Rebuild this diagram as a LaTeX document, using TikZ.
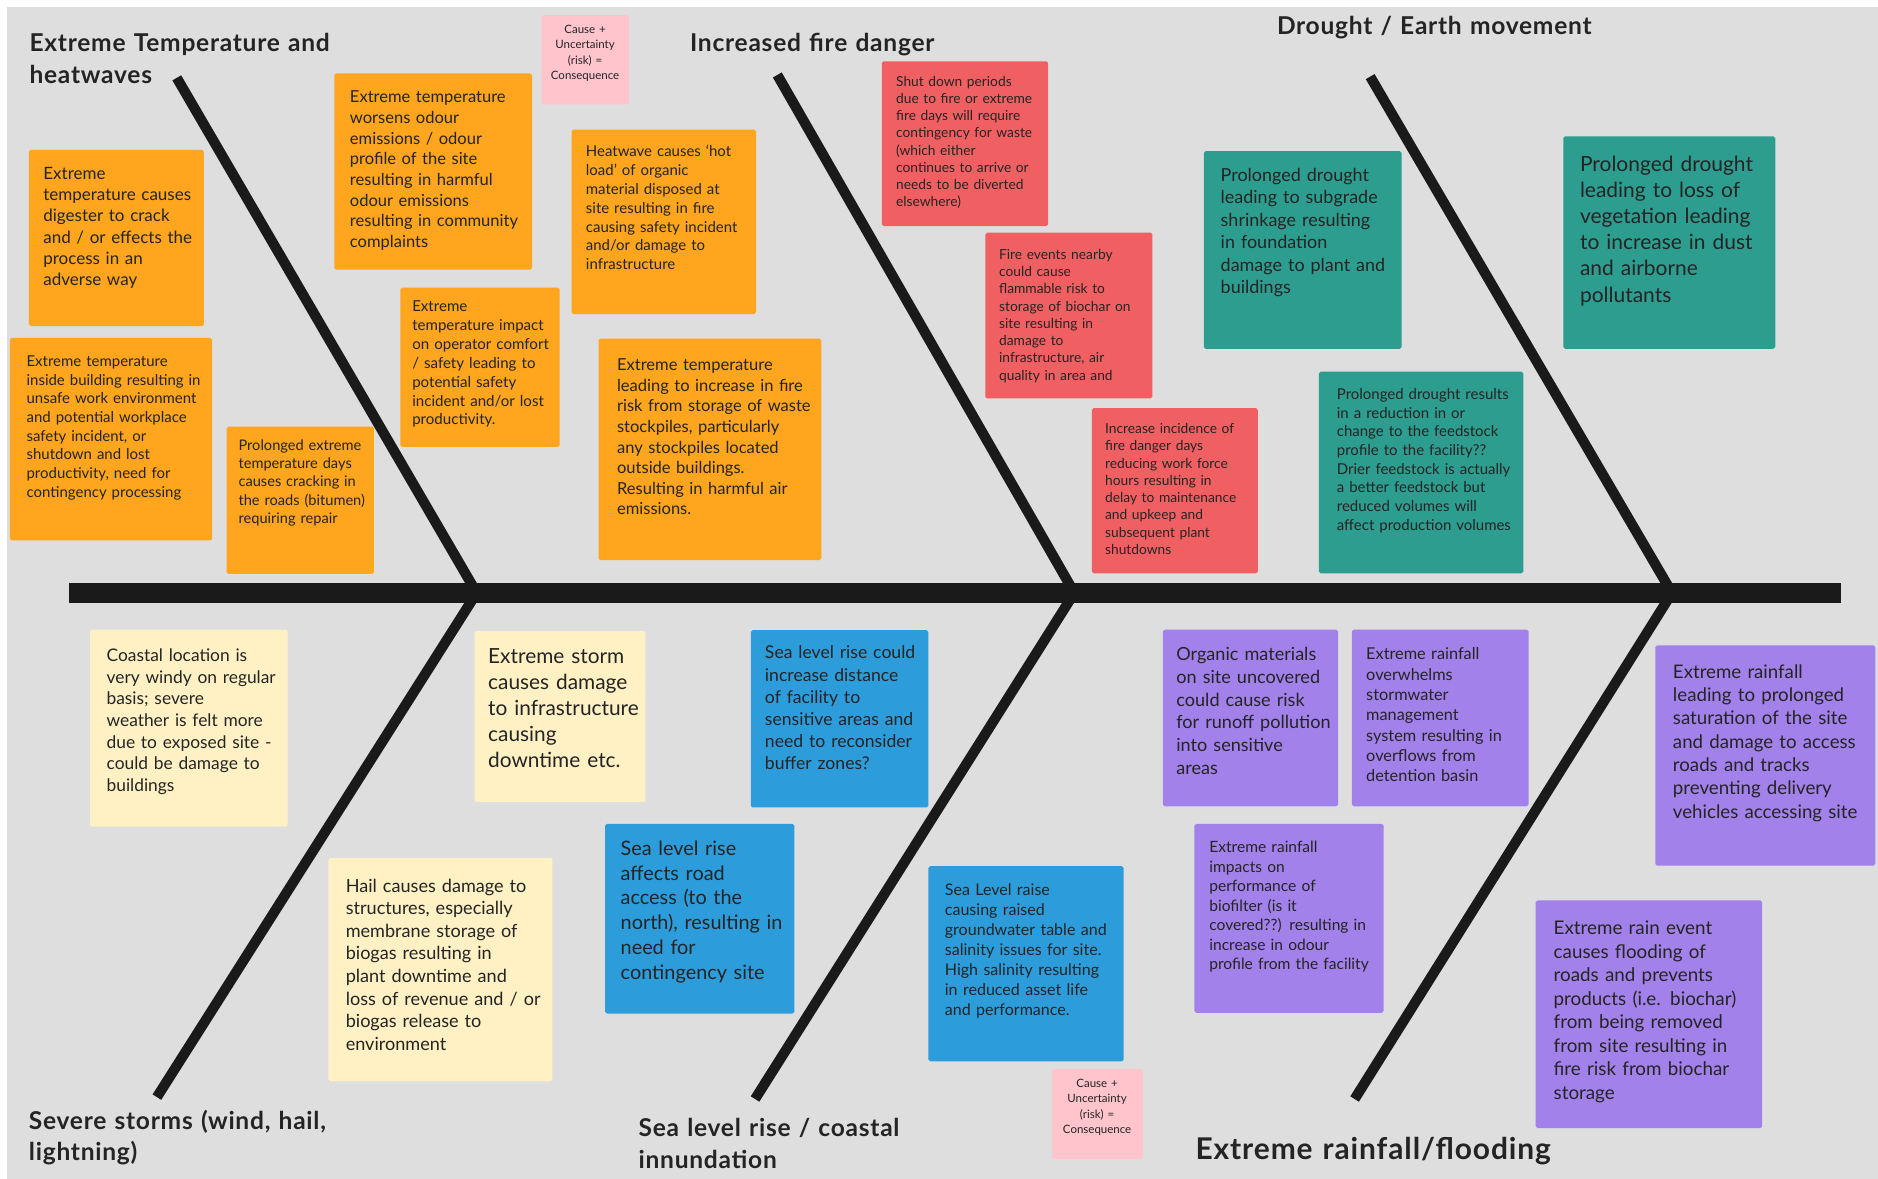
\documentclass[tikz,border=0pt]{standalone}
\usepackage{fontspec}
\setmainfont{Lato}
\newcommand{\fs}[2]{\fontsize{#1}{#2}\selectfont}
\definecolor{board}{RGB}{222,222,222}
\definecolor{ink}{RGB}{36,36,36}
\definecolor{bonecol}{RGB}{26,26,26}
\definecolor{orangenote}{RGB}{255,165,30}
\definecolor{pinknote}{RGB}{255,196,204}
\definecolor{rednote}{RGB}{240,96,98}
\definecolor{tealnote}{RGB}{44,157,143}
\definecolor{yellownote}{RGB}{255,241,196}
\definecolor{bluenote}{RGB}{45,156,219}
\definecolor{purplenote}{RGB}{162,129,234}

\begin{document}
\begin{tikzpicture}[x=1pt, y=-1pt,
  stickybox/.style={anchor=north west, inner sep=0pt, rounded corners=1.5pt},
  stickytxt/.style={anchor=base west, inner sep=0pt, align=left, text=ink},
  cuetxt/.style={anchor=base, inner sep=0pt, align=center, text=ink, font=\fs{9.6}{12.8}},
  headline/.style={anchor=base west, inner sep=0pt, align=left, text=ink, text width=340pt, font=\bfseries\fs{20.5}{26.5}\addfontfeature{LetterSpace=3}},
  fishbone/.style={draw=bonecol, line width=8.5pt}]
\useasboundingbox (0,0) rectangle (1568,984);
%Fondo
\fill[white] (0,0) rectangle (1568,984);
\fill[board] (6,6) rectangle (1568,984);

%Espina
\coordinate (spineL) at (58,495);
\coordinate (spineR) at (1537,495);
\coordinate (j1) at (398,495);
\coordinate (j2) at (897,495);
\coordinate (j3) at (1396,495);
\coordinate (heatEnd) at (147.6,65);
\coordinate (fireEnd) at (649,62.6);
\coordinate (dryEnd) at (1144,64);
\coordinate (stormEnd) at (131,916);
\coordinate (seaEnd) at (630.4,917.6);
\coordinate (rainEnd) at (1131,917.6);
\draw[draw=bonecol, line width=17pt] (spineL) -- (spineR);
\draw[fishbone] (j1) -- (heatEnd);
\draw[fishbone] (j2) -- (fireEnd);
\draw[fishbone] (j3) -- (dryEnd);
\draw[fishbone] (j1) -- (stormEnd);
\draw[fishbone] (j2) -- (seaEnd);
\draw[fishbone] (j3) -- (rainEnd);

%Titulos
\node[headline] (tHeat) at (24.5,43.2) {Extreme Temperature and\\heatwaves};
\node[headline] (tFire) at (576,43.2) {Increased fire danger};
\node[headline] (tDry) at (1066,29.2) {Drought / Earth movement};
\node[headline] (tStorm) at (24,942.7) {Severe storms (wind, hail,\\lightning)};
\node[headline] (tSea) at (533,949) {Sea level rise / coastal\\innundation};
\node[headline, font=\bfseries\fs{25}{30}\addfontfeature{LetterSpace=3}] (tRain) at (998,967.8) {Extreme rainfall/flooding};

%Calor
\node[stickybox, fill=orangenote, minimum width=146pt, minimum height=147pt] (heat1) at (24,125) {};
\node[stickytxt, text width=140pt, font=\fs{14.2}{17.8}] (heat1t) at (36,149.5) {Extreme\\temperature causes\\digester to crack\\and / or effects the\\process in an\\adverse way};
\node[stickybox, fill=orangenote, minimum width=169pt, minimum height=169pt] (heat2) at (8,282) {};
\node[stickytxt, text width=160pt, font=\fs{12.5}{15.6}] (heat2t) at (22,306) {Extreme temperature\\inside building resulting in\\unsafe work environment\\and potential workplace\\safety incident, or\\shutdown and lost\\productivity, need for\\contingency processing};
\node[stickybox, fill=orangenote, minimum width=165pt, minimum height=164pt] (heat3) at (279,61) {};
\node[stickytxt, text width=158pt, font=\fs{13.8}{17.2}] (heat3t) at (292,86) {Extreme temperature\\worsens odour\\emissions / odour\\profile of the site\\resulting in harmful\\odour emissions\\resulting in community\\complaints};
\node[stickybox, fill=orangenote, minimum width=133pt, minimum height=133pt] (heat4) at (334,240) {};
\node[stickytxt, text width=128pt, font=\fs{12.6}{15.8}] (heat4t) at (344,260) {Extreme\\temperature impact\\on operator comfort\\/ safety leading to\\potential safety\\incident and/or lost\\productivity.};
\node[stickybox, fill=orangenote, minimum width=123pt, minimum height=123pt] (heat5) at (189,356) {};
\node[stickytxt, text width=118pt, font=\fs{12.2}{15.3}] (heat5t) at (199,376) {Prolonged extreme\\temperature days\\causes cracking in\\the roads (bitumen)\\requiring repair};
\node[stickybox, fill=orangenote, minimum width=154pt, minimum height=154pt] (heat6) at (477,108) {};
\node[stickytxt, text width=148pt, font=\fs{12.5}{15.7}] (heat6t) at (489,131) {Heatwave causes `hot\\load' of organic\\material disposed at\\site resulting in fire\\causing safety incident\\and/or damage to\\infrastructure};
\node[stickybox, fill=orangenote, minimum width=186pt, minimum height=185pt] (heat7) at (499.5,282.5) {};
\node[stickytxt, text width=178pt, font=\fs{13.8}{17.2}] (heat7t) at (515,309.5) {Extreme temperature\\leading to increase in fire\\risk from storage of waste\\stockpiles, particularly\\any stockpiles located\\outside buildings.\\Resulting in harmful air\\emissions.};

%Notas
\node[stickybox, fill=pinknote, minimum width=73pt, minimum height=74.5pt] (cue1) at (452,12.5) {};
\node[cuetxt, text width=73pt] (cue1t) at (488.5,28) {Cause +\\Uncertainty\\(risk) =\\Consequence};
\node[stickybox, fill=pinknote, minimum width=76pt, minimum height=75pt] (cue2) at (878,892.5) {};
\node[cuetxt, text width=76pt] (cue2t) at (916,908) {Cause +\\Uncertainty\\(risk) =\\Consequence};

%Fuego
\node[stickybox, fill=rednote, minimum width=139pt, minimum height=137.5pt] (fire1) at (736,51) {};
\node[stickytxt, text width=134pt, font=\fs{11.5}{14.4}] (fire1t) at (748,72) {Shut down periods\\due to fire or extreme\\fire days will require\\contingency for waste\\(which either\\continues to arrive or\\needs to be diverted\\elsewhere)};
\node[stickybox, fill=rednote, minimum width=139.5pt, minimum height=138.5pt] (fire2) at (822.5,194) {};
\node[stickytxt, text width=134pt, font=\fs{11.5}{14.4}] (fire2t) at (834,216.5) {Fire events nearby\\could cause\\flammable risk to\\storage of biochar on\\site resulting in\\damage to\\infrastructure, air\\quality in area and};
\node[stickybox, fill=rednote, minimum width=138.5pt, minimum height=138pt] (fire3) at (911.5,340.5) {};
\node[stickytxt, text width=134pt, font=\fs{11.5}{14.4}] (fire3t) at (922.5,362) {Increase incidence of\\fire danger days\\reducing work force\\hours resulting in\\delay to maintenance\\and upkeep and\\subsequent plant\\shutdowns};

%Sequia
\node[stickybox, fill=tealnote, minimum width=165pt, minimum height=165pt] (dry1) at (1005,126) {};
\node[stickytxt, text width=158pt, font=\fs{15}{18.8}] (dry1t) at (1019,151.4) {Prolonged drought\\leading to subgrade\\shrinkage resulting\\in foundation\\damage to plant and\\buildings};
\node[stickybox, fill=tealnote, minimum width=177pt, minimum height=177.4pt] (dry2) at (1305,113.6) {};
\node[stickytxt, text width=170pt, font=\fs{17.5}{21.9}] (dry2t) at (1319,142.8) {Prolonged drought\\leading to loss of\\vegetation leading\\to increase in dust\\and airborne\\pollutants};
\node[stickybox, fill=tealnote, minimum width=170.6pt, minimum height=168.6pt] (dry3) at (1101,310) {};
\node[stickytxt, text width=164pt, font=\fs{12.5}{15.6}] (dry3t) at (1116,333.6) {Prolonged drought results\\in a reduction in or\\change to the feedstock\\profile to the facility??\\Drier feedstock is actually\\a better feedstock but\\reduced volumes will\\affect production volumes};

%Tormentas
\node[stickybox, fill=yellownote, minimum width=165pt, minimum height=164.5pt] (storm1) at (75,525.5) {};
\node[stickytxt, text width=158pt, font=\fs{14.5}{18.1}] (storm1t) at (88.8,552.2) {Coastal location is\\very windy on regular\\basis; severe\\weather is felt more\\due to exposed site -\\could be damage to\\buildings};
\node[stickybox, fill=yellownote, minimum width=142.6pt, minimum height=143pt] (storm2) at (396,526.5) {};
\node[stickytxt, text width=138pt, font=\fs{17.4}{21.75}] (storm2t) at (407.4,554) {Extreme storm\\causes damage\\to infrastructure\\causing\\downtime etc.};
\node[stickybox, fill=yellownote, minimum width=187pt, minimum height=186.6pt] (storm3) at (274,716) {};
\node[stickytxt, text width=180pt, font=\fs{15.1}{18.9}] (storm3t) at (288.5,744.8) {Hail causes damage to\\structures, especially\\membrane storage of\\biogas resulting in\\plant downtime and\\loss of revenue and / or\\biogas release to\\environment};

%Mar
\node[stickybox, fill=bluenote, minimum width=148.3pt, minimum height=148pt] (sea1) at (626.7,526) {};
\node[stickytxt, text width=144pt, font=\fs{14.7}{18.4}] (sea1t) at (638.5,550.2) {Sea level rise could\\increase distance\\of facility to\\sensitive areas and\\need to reconsider\\buffer zones?};
\node[stickybox, fill=bluenote, minimum width=158pt, minimum height=158.3pt] (sea2) at (505,687.7) {};
\node[stickytxt, text width=152pt, font=\fs{16.6}{20.8}] (sea2t) at (518,714) {Sea level rise\\affects road\\access (to the\\north), resulting in\\need for\\contingency site};
\node[stickybox, fill=bluenote, minimum width=163pt, minimum height=163pt] (sea3) at (775,723) {};
\node[stickytxt, text width=156pt, font=\fs{13.4}{16.8}] (sea3t) at (788.7,747.4) {Sea Level raise\\causing raised\\groundwater table and\\salinity issues for site.\\High salinity resulting\\in reduced asset life\\and performance.};

%Lluvia
\node[stickybox, fill=purplenote, minimum width=146.3pt, minimum height=147.5pt] (rain1) at (970.7,525.5) {};
\node[stickytxt, text width=142pt, font=\fs{15.1}{18.9}] (rain1t) at (982,551.8) {Organic materials\\on site uncovered\\could cause risk\\for runoff pollution\\into sensitive\\areas};
\node[stickybox, fill=purplenote, minimum width=147.4pt, minimum height=147.5pt] (rain2) at (1128.6,525.5) {};
\node[stickytxt, text width=142pt, font=\fs{13.6}{17}] (rain2t) at (1140.5,550.9) {Extreme rainfall\\overwhelms\\stormwater\\management\\system resulting in\\overflows from\\detention basin};
\node[stickybox, fill=purplenote, minimum width=158pt, minimum height=157.8pt] (rain3) at (997,687.7) {};
\node[stickytxt, text width=152pt, font=\fs{13}{16.3}] (rain3t) at (1009.5,711.8) {Extreme rainfall\\impacts on\\performance of\\biofilter (is it\\covered??) resulting in\\increase in odour\\profile from the facility};
\node[stickybox, fill=purplenote, minimum width=183.7pt, minimum height=183.9pt] (rain4) at (1381.8,538.7) {};
\node[stickytxt, text width=176pt, font=\fs{15.6}{19.5}] (rain4t) at (1396.6,566.1) {Extreme rainfall\\leading to prolonged\\saturation of the site\\and damage to access\\roads and tracks\\preventing delivery\\vehicles accessing site};
\node[stickybox, fill=purplenote, minimum width=189pt, minimum height=190.3pt] (rain5) at (1282,751.5) {};
\node[stickytxt, text width=182pt, font=\fs{15.7}{19.6}] (rain5t) at (1297,780.4) {Extreme rain event\\causes flooding of\\roads and prevents\\products (i.e. biochar)\\from being removed\\from site resulting in\\fire risk from biochar\\storage};
\end{tikzpicture}
\end{document}
